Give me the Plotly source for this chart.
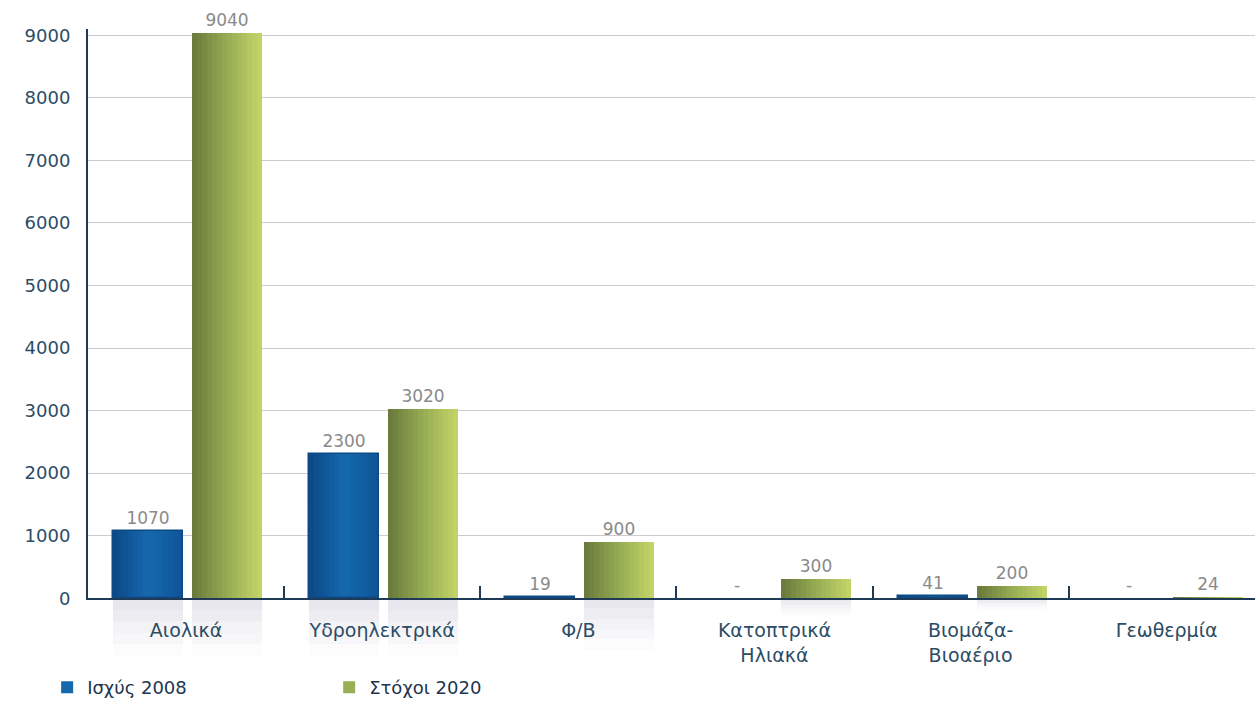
import plotly.graph_objects as go

# Installed capacity of renewable sources (MW): 2008 status vs 2020 targets
categories = ["Αιολικά", "Υδροηλεκτρικά", "Φ/Β", "Κατοπτρικά<br>Ηλιακά",
              "Βιομάζα-<br>Βιοαέριο", "Γεωθερμία"]
power_2008 = [1070, 2300, 19, 0, 41, 0]
targets_2020 = [9040, 3020, 900, 300, 200, 24]
y_ticks = [0, 1000, 2000, 3000, 4000, 5000, 6000, 7000, 8000, 9000]
series_names = ["Ισχύς 2008", "Στόχοι 2020"]

FONT = "DejaVu Sans"
AXIS_COLOR = "#1e3a56"

BAR_W = 0.357
OFFSETS = [-0.372, 0.031]
N_STRIPS = 14

# horizontal colour ramps used to shade each bar (left edge -> middle -> right edge)
RAMPS = [
    [(12, 72, 132), (22, 104, 176), (14, 84, 150)],
    [(104, 120, 58), (150, 172, 84), (196, 214, 104)],
]
OUTLINES = ["#0c4a86", "rgba(0,0,0,0)"]
LEGEND_STRIP = [7, 7]


def ramp_color(stops, t):
    if t <= 0.5:
        a, b, u = stops[0], stops[1], t / 0.5
    else:
        a, b, u = stops[1], stops[2], (t - 0.5) / 0.5
    c = [round(a[k] + (b[k] - a[k]) * u) for k in range(3)]
    return f"rgb({c[0]},{c[1]},{c[2]})"


def value_text(vals):
    return [str(v) if v else "-" for v in vals]


fig = go.Figure()

all_series = [power_2008, targets_2020]

# soft mirrored reflections below the baseline (lower strip of the chart)
fade = [(0.0, 0.2, 0.40), (0.2, 0.4, 0.30), (0.4, 0.6, 0.21),
        (0.6, 0.8, 0.13), (0.8, 1.0, 0.06)]
for s, vals in enumerate(all_series):
    depth = [min(v, 1000) * 0.92 for v in vals]
    for lo, hi, op in fade:
        fig.add_trace(go.Bar(
            x=categories, y=[d * (hi - lo) for d in depth],
            base=[d * lo for d in depth],
            offset=OFFSETS[s], width=BAR_W,
            marker=dict(color=f"rgba(196,196,210,{op})", line=dict(width=0)),
            xaxis="x", yaxis="y", showlegend=False, hoverinfo="skip",
        ))

# main bars, each drawn as a row of thin shaded strips
for s, vals in enumerate(all_series):
    for i in range(N_STRIPS):
        t = (i + 0.5) / N_STRIPS
        fig.add_trace(go.Bar(
            x=categories, y=vals,
            offset=OFFSETS[s] + i * BAR_W / N_STRIPS,
            width=BAR_W / N_STRIPS + (0.004 if i < N_STRIPS - 1 else 0),
            marker=dict(color=ramp_color(RAMPS[s], t), line=dict(width=0)),
            name=series_names[s], legendgroup=series_names[s],
            showlegend=(i == LEGEND_STRIP[s]),
            xaxis="x", yaxis="y2", hoverinfo="skip",
        ))
    # thin outline (only for non-zero bars)
    fig.add_trace(go.Bar(
        x=categories, y=[v if v else None for v in vals],
        offset=OFFSETS[s], width=BAR_W,
        marker=dict(color="rgba(0,0,0,0)", line=dict(color=OUTLINES[s], width=1.5)),
        legendgroup=series_names[s], showlegend=False,
        xaxis="x", yaxis="y2", hoverinfo="skip",
    ))
    # value labels above each bar
    fig.add_trace(go.Bar(
        x=categories, y=vals, offset=OFFSETS[s], width=BAR_W,
        marker=dict(color="rgba(0,0,0,0)", line=dict(width=0)),
        text=value_text(vals), textposition="outside", cliponaxis=False,
        textfont=dict(family=FONT, size=17, color="#8a8a8a"),
        name=series_names[s], legendgroup=series_names[s], showlegend=False,
        xaxis="x", yaxis="y2",
    ))

fig.update_layout(
    width=1255, height=706,
    margin=dict(l=88, r=0, t=29, b=30),
    paper_bgcolor="white", plot_bgcolor="white",
    barmode="overlay",
    font=dict(family=FONT, color=AXIS_COLOR),
    xaxis=dict(
        type="category", range=[-0.5, 5.45], anchor="y2",
        showline=True, linecolor=AXIS_COLOR, linewidth=2,
        ticks="inside", tickson="boundaries", ticklen=12, tickwidth=2, tickcolor=AXIS_COLOR,
        showgrid=False, ticklabelstandoff=14,
        tickfont=dict(family=FONT, size=19, color="#2c4c66"),
    ),
    yaxis2=dict(
        domain=[0.1175, 1], range=[0, 9100], tickvals=y_ticks,
        showline=True, linecolor=AXIS_COLOR, linewidth=2,
        showgrid=True, gridcolor="#cccccc", gridwidth=1, zeroline=False,
        ticks="", ticklabelstandoff=12,
        tickfont=dict(family=FONT, size=18, color="#2c4c66"),
    ),
    yaxis=dict(
        domain=[0, 0.1175], range=[1211, 0], visible=False,
        showgrid=False, zeroline=False,
    ),
    legend=dict(
        orientation="h", x=-0.035, xanchor="left", y=-0.0216, yanchor="middle",
        entrywidth=237, entrywidthmode="pixels",
        font=dict(family=FONT, size=18, color="#1d3550"),
        traceorder="normal", bgcolor="rgba(0,0,0,0)",
    ),
    bargap=0,
)

fig.write_html("out.html")
